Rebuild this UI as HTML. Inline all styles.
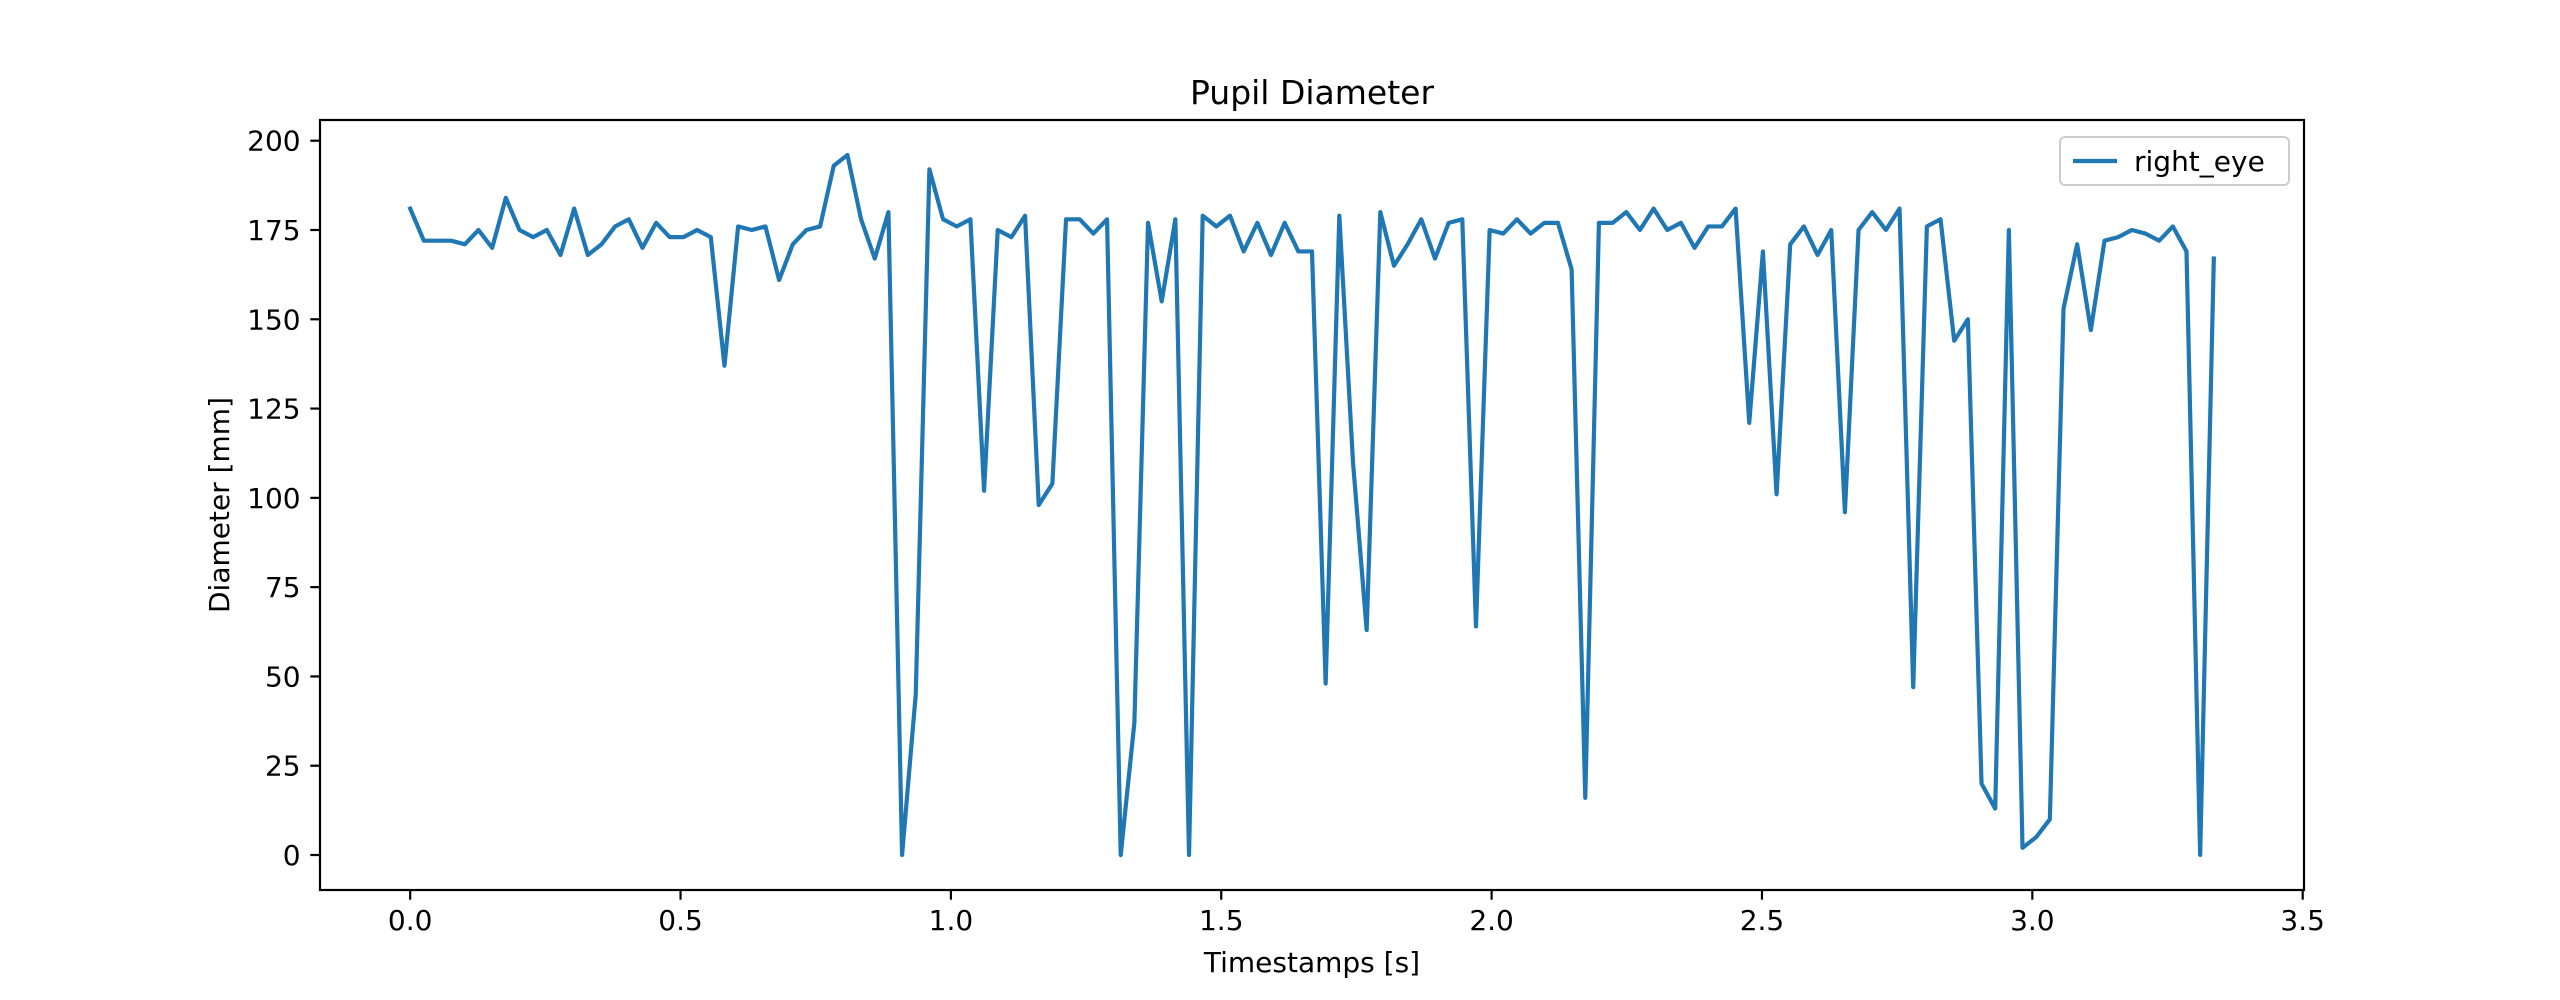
<!DOCTYPE html>
<html><head><meta charset="utf-8"><title>Pupil Diameter</title>
<style>html,body{margin:0;padding:0;background:#fff}svg{display:block;font-family:"DejaVu Sans","Liberation Sans",sans-serif}</style>
</head><body>
<svg id="chart" width="2560" height="1000" viewBox="0 0 2560 1000" xmlns="http://www.w3.org/2000/svg">
<rect x="0" y="0" width="2560" height="1000" fill="#fff"/>
<text x="1312" y="104" font-size="33" text-anchor="middle" fill="#000">Pupil Diameter</text>
<g id="xticks"></g>
<g id="yticks"></g>
<path id="series" fill="none" stroke="#1f77b4" stroke-width="4.2" stroke-linejoin="round" stroke-linecap="square"/>
<rect x="320" y="120" width="1984" height="770" fill="none" stroke="#000" stroke-width="2.2"/>
<text x="1312" y="972" font-size="28" text-anchor="middle" fill="#000">Timestamps [s]</text>
<text x="229" y="505" font-size="28" text-anchor="middle" fill="#000" transform="rotate(-90 229 505)">Diameter [mm]</text>
<g>
<rect x="2060" y="137" width="229" height="48" rx="5" fill="#fff" fill-opacity="0.8" stroke="#ccc" stroke-width="2"/>
<line x1="2073" y1="161" x2="2117" y2="161" stroke="#1f77b4" stroke-width="4.2"/>
<text x="2134" y="171" font-size="28" fill="#000">right_eye</text>
</g>
</svg>
<script>
const diameterValues = [181,172,172,172,171,175,170,184,175,173,175,168,181,168,171,176,178,170,177,173,173,175,173,137,176,175,176,161,171,175,176,193,196,178,167,180,0,45,192,178,176,178,102,175,173,179,98,104,178,178,174,178,0,37,177,155,178,0,179,176,179,169,177,168,177,169,169,48,179,110,63,180,165,171,178,167,177,178,64,175,174,178,174,177,177,164,16,177,177,180,175,181,175,177,170,176,176,181,121,169,101,171,176,168,175,96,175,180,175,181,47,176,178,144,150,20,13,175,2,5,10,153,171,147,172,173,175,174,172,176,169,0,167];
const samplePeriod = 0.02527;
const xTickLabels = ["0.0","0.5","1.0","1.5","2.0","2.5","3.0","3.5"];
const yTickLabels = ["0","25","50","75","100","125","150","175","200"];

const svgNS = "http://www.w3.org/2000/svg";
const L = 320, R = 2304, T = 120, B = 890;
const timestamps = diameterValues.map((_, i) => i * samplePeriod);
const xMax = timestamps[timestamps.length - 1];
const xPad = xMax * 0.05;
const xMinD = -xPad, xMaxD = xMax + xPad;
const yMinV = Math.min(...diameterValues), yMaxV = Math.max(...diameterValues);
const yPad = (yMaxV - yMinV) * 0.05;
const yMinD = yMinV - yPad, yMaxD = yMaxV + yPad;
function xScale(v) { return L + (v - xMinD) / (xMaxD - xMinD) * (R - L); }
function yScale(v) { return B - (v - yMinD) / (yMaxD - yMinD) * (B - T); }

const xg = document.getElementById('xticks');
xTickLabels.forEach(lab => {
  const x = xScale(parseFloat(lab));
  const ln = document.createElementNS(svgNS, 'line');
  
  
  ln.setAttribute('x1', x); ln.setAttribute('x2', x);
  ln.setAttribute('y1', B); ln.setAttribute('y2', B + 9.7);
  ln.setAttribute('stroke', '#000'); ln.setAttribute('stroke-width', '2.2');
  xg.appendChild(ln);
  const t = document.createElementNS(svgNS, 'text');
  
  
  t.setAttribute('x', x); t.setAttribute('y', B + 40);
  t.setAttribute('font-size', '28'); t.setAttribute('text-anchor', 'middle');
  t.textContent = lab;
  xg.appendChild(t);
});
const yg = document.getElementById('yticks');
yTickLabels.forEach(lab => {
  const y = yScale(parseFloat(lab));
  const ln = document.createElementNS(svgNS, 'line');
  
  
  ln.setAttribute('x1', L - 9.7); ln.setAttribute('x2', L);
  ln.setAttribute('y1', y); ln.setAttribute('y2', y);
  ln.setAttribute('stroke', '#000'); ln.setAttribute('stroke-width', '2.2');
  yg.appendChild(ln);
  const t = document.createElementNS(svgNS, 'text');
  
  
  t.setAttribute('x', L - 19.4); t.setAttribute('y', y + 10);
  t.setAttribute('font-size', '28'); t.setAttribute('text-anchor', 'end');
  t.textContent = lab;
  yg.appendChild(t);
});
const d = diameterValues.map((v, i) => (i ? 'L' : 'M') + xScale(timestamps[i]).toFixed(2) + ' ' + yScale(v).toFixed(2)).join(' ');
document.getElementById('series').setAttribute('d', d);
</script>
</body></html>
